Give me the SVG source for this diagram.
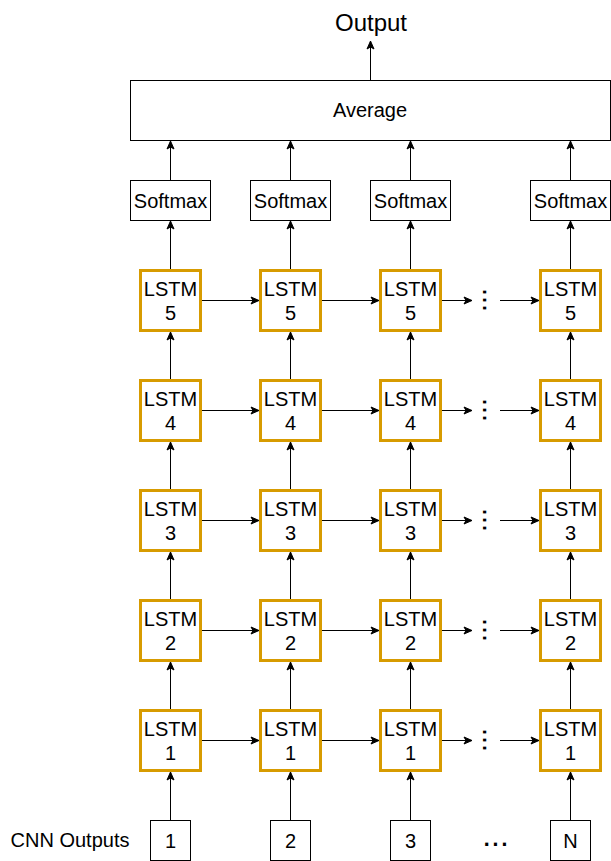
<svg xmlns="http://www.w3.org/2000/svg" width="611" height="861" viewBox="0 0 611 861">
<style>
text{font-family:"Liberation Sans",Arial,sans-serif;font-size:20px;fill:#000;text-anchor:middle;dominant-baseline:central}
text.dots{dominant-baseline:auto}
.box{fill:#fff;stroke:#000;stroke-width:1}
.lstm{fill:#fff;stroke:#d79b00;stroke-width:3}
.c{fill:none;stroke:#000;stroke-width:1;marker-end:url(#arr)}
</style>
<defs>
<marker id="arr" markerUnits="userSpaceOnUse" markerWidth="10" markerHeight="10" viewBox="0 0 10 10" refX="9" refY="5" orient="auto">
<path d="M1,1.5 L9,5 L1,8.5 L3,5 z" fill="#000" stroke="#000" stroke-width="1"/>
</marker>
</defs>
<g id="output-label"><text x="371" y="22" style="font-size:24px">Output</text></g>
<g id="average"><rect class="box" x="130.5" y="80.5" width="480" height="60"/><text x="370" y="110">Average</text></g>
<g id="softmax1"><rect class="box" x="130.5" y="180.5" width="80" height="40"/><text x="170.5" y="200.5">Softmax</text></g>
<g id="softmax2"><rect class="box" x="250.5" y="180.5" width="80" height="40"/><text x="290.5" y="200.5">Softmax</text></g>
<g id="softmax3"><rect class="box" x="370.5" y="180.5" width="80" height="40"/><text x="410.5" y="200.5">Softmax</text></g>
<g id="softmax4"><rect class="box" x="530.5" y="180.5" width="80" height="40"/><text x="570.5" y="200.5">Softmax</text></g>
<g id="lstm5-1"><rect class="lstm" x="140.5" y="270.5" width="60" height="60"/><text x="170.5" y="289">LSTM</text><text x="170.5" y="313">5</text></g>
<g id="lstm5-2"><rect class="lstm" x="260.5" y="270.5" width="60" height="60"/><text x="290.5" y="289">LSTM</text><text x="290.5" y="313">5</text></g>
<g id="lstm5-3"><rect class="lstm" x="380.5" y="270.5" width="60" height="60"/><text x="410.5" y="289">LSTM</text><text x="410.5" y="313">5</text></g>
<g id="lstm5-4"><rect class="lstm" x="540.5" y="270.5" width="60" height="60"/><text x="570.5" y="289">LSTM</text><text x="570.5" y="313">5</text></g>
<g id="lstm4-1"><rect class="lstm" x="140.5" y="380.5" width="60" height="60"/><text x="170.5" y="399">LSTM</text><text x="170.5" y="423">4</text></g>
<g id="lstm4-2"><rect class="lstm" x="260.5" y="380.5" width="60" height="60"/><text x="290.5" y="399">LSTM</text><text x="290.5" y="423">4</text></g>
<g id="lstm4-3"><rect class="lstm" x="380.5" y="380.5" width="60" height="60"/><text x="410.5" y="399">LSTM</text><text x="410.5" y="423">4</text></g>
<g id="lstm4-4"><rect class="lstm" x="540.5" y="380.5" width="60" height="60"/><text x="570.5" y="399">LSTM</text><text x="570.5" y="423">4</text></g>
<g id="lstm3-1"><rect class="lstm" x="140.5" y="490.5" width="60" height="60"/><text x="170.5" y="509">LSTM</text><text x="170.5" y="533">3</text></g>
<g id="lstm3-2"><rect class="lstm" x="260.5" y="490.5" width="60" height="60"/><text x="290.5" y="509">LSTM</text><text x="290.5" y="533">3</text></g>
<g id="lstm3-3"><rect class="lstm" x="380.5" y="490.5" width="60" height="60"/><text x="410.5" y="509">LSTM</text><text x="410.5" y="533">3</text></g>
<g id="lstm3-4"><rect class="lstm" x="540.5" y="490.5" width="60" height="60"/><text x="570.5" y="509">LSTM</text><text x="570.5" y="533">3</text></g>
<g id="lstm2-1"><rect class="lstm" x="140.5" y="600.5" width="60" height="60"/><text x="170.5" y="619">LSTM</text><text x="170.5" y="643">2</text></g>
<g id="lstm2-2"><rect class="lstm" x="260.5" y="600.5" width="60" height="60"/><text x="290.5" y="619">LSTM</text><text x="290.5" y="643">2</text></g>
<g id="lstm2-3"><rect class="lstm" x="380.5" y="600.5" width="60" height="60"/><text x="410.5" y="619">LSTM</text><text x="410.5" y="643">2</text></g>
<g id="lstm2-4"><rect class="lstm" x="540.5" y="600.5" width="60" height="60"/><text x="570.5" y="619">LSTM</text><text x="570.5" y="643">2</text></g>
<g id="lstm1-1"><rect class="lstm" x="140.5" y="710.5" width="60" height="60"/><text x="170.5" y="729">LSTM</text><text x="170.5" y="753">1</text></g>
<g id="lstm1-2"><rect class="lstm" x="260.5" y="710.5" width="60" height="60"/><text x="290.5" y="729">LSTM</text><text x="290.5" y="753">1</text></g>
<g id="lstm1-3"><rect class="lstm" x="380.5" y="710.5" width="60" height="60"/><text x="410.5" y="729">LSTM</text><text x="410.5" y="753">1</text></g>
<g id="lstm1-4"><rect class="lstm" x="540.5" y="710.5" width="60" height="60"/><text x="570.5" y="729">LSTM</text><text x="570.5" y="753">1</text></g>
<g id="vdots">
<text class="dots" x="483" y="300" transform="rotate(90 483 300)" style="font-size:29px">...</text>
<text class="dots" x="483" y="410" transform="rotate(90 483 410)" style="font-size:29px">...</text>
<text class="dots" x="483" y="520" transform="rotate(90 483 520)" style="font-size:29px">...</text>
<text class="dots" x="483" y="630" transform="rotate(90 483 630)" style="font-size:29px">...</text>
<text class="dots" x="483" y="740" transform="rotate(90 483 740)" style="font-size:29px">...</text>
</g>
<g id="cnn-label"><text x="70" y="840">CNN Outputs</text></g>
<g id="cnn1"><rect class="box" x="150.5" y="820.5" width="40" height="40"/><text x="170.5" y="840.5">1</text></g>
<g id="cnn2"><rect class="box" x="270.5" y="820.5" width="40" height="40"/><text x="290.5" y="840.5">2</text></g>
<g id="cnn3"><rect class="box" x="390.5" y="820.5" width="40" height="40"/><text x="410.5" y="840.5">3</text></g>
<g id="cnn-dots"><text class="dots" x="495.5" y="846" style="font-size:32px">...</text></g>
<g id="cnnN"><rect class="box" x="550.5" y="820.5" width="40" height="40"/><text x="570.5" y="840.5">N</text></g>
<g id="connectors">
<path class="c" d="M370.5,80 V41"/>
<path class="c" d="M170.5,180 V141"/>
<path class="c" d="M290.5,180 V141"/>
<path class="c" d="M410.5,180 V141"/>
<path class="c" d="M570.5,180 V141"/>
<path class="c" d="M170.5,269 V221"/>
<path class="c" d="M290.5,269 V221"/>
<path class="c" d="M410.5,269 V221"/>
<path class="c" d="M570.5,269 V221"/>
<path class="c" d="M170.5,379 V332"/>
<path class="c" d="M290.5,379 V332"/>
<path class="c" d="M410.5,379 V332"/>
<path class="c" d="M570.5,379 V332"/>
<path class="c" d="M170.5,489 V442"/>
<path class="c" d="M290.5,489 V442"/>
<path class="c" d="M410.5,489 V442"/>
<path class="c" d="M570.5,489 V442"/>
<path class="c" d="M170.5,599 V552"/>
<path class="c" d="M290.5,599 V552"/>
<path class="c" d="M410.5,599 V552"/>
<path class="c" d="M570.5,599 V552"/>
<path class="c" d="M170.5,709 V662"/>
<path class="c" d="M290.5,709 V662"/>
<path class="c" d="M410.5,709 V662"/>
<path class="c" d="M570.5,709 V662"/>
<path class="c" d="M170.5,820 V772"/>
<path class="c" d="M290.5,820 V772"/>
<path class="c" d="M410.5,820 V772"/>
<path class="c" d="M570.5,820 V772"/>
<path class="c" d="M202,300.5 H259"/>
<path class="c" d="M322,300.5 H379"/>
<path class="c" d="M442,300.5 H472"/>
<path class="c" d="M500,300.5 H539"/>
<path class="c" d="M202,410.5 H259"/>
<path class="c" d="M322,410.5 H379"/>
<path class="c" d="M442,410.5 H472"/>
<path class="c" d="M500,410.5 H539"/>
<path class="c" d="M202,520.5 H259"/>
<path class="c" d="M322,520.5 H379"/>
<path class="c" d="M442,520.5 H472"/>
<path class="c" d="M500,520.5 H539"/>
<path class="c" d="M202,630.5 H259"/>
<path class="c" d="M322,630.5 H379"/>
<path class="c" d="M442,630.5 H472"/>
<path class="c" d="M500,630.5 H539"/>
<path class="c" d="M202,740.5 H259"/>
<path class="c" d="M322,740.5 H379"/>
<path class="c" d="M442,740.5 H472"/>
<path class="c" d="M500,740.5 H539"/>
</g>
</svg>
